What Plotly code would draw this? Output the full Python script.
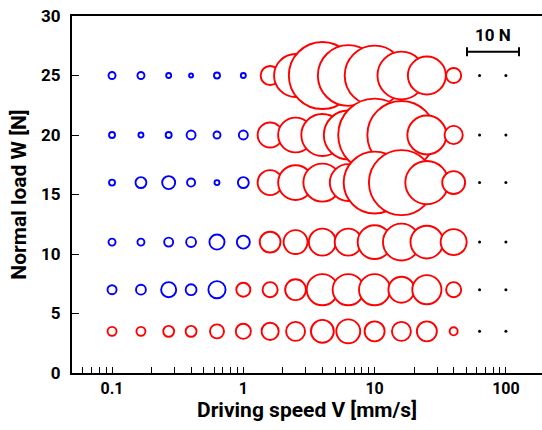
import plotly.graph_objects as go

# ---------------- data ----------------
speeds = [0.1, 0.166, 0.27, 0.4, 0.63, 1.0, 1.6, 2.5, 4.0, 6.3, 10, 16, 25, 40]   # mm/s
dot_speeds = [63, 100]                                                             # mm/s (no circle)
loads = [25, 20, 16, 11, 7, 3.5]                                                   # N

# circle magnitude (N) for each load row, in speed order
force_W25 = [1.35, 1.35, 0.96, 0.77, 1.15, 0.96, 3.65, 8.27, 12.9, 11.7, 11.5, 9.2, 7.3, 2.9]
force_W20 = [1.15, 0.96, 1.15, 1.73, 1.35, 1.73, 4.8, 6.7, 8.1, 9.4, 14.0, 13.1, 7.5, 3.5]
force_W16 = [1.15, 2.1, 2.5, 1.55, 0.96, 2.1, 4.8, 6.7, 7.3, 7.1, 11.9, 12.5, 8.3, 4.4]
force_W11 = [1.35, 1.35, 1.73, 1.9, 2.9, 2.5, 4.0, 4.6, 5.2, 5.2, 6.5, 7.1, 6.3, 5.0]
force_W7 = [1.73, 1.9, 2.9, 2.1, 3.3, 2.7, 2.9, 4.0, 6.0, 6.0, 6.0, 5.0, 5.6, 2.9]
force_W3_5 = [1.73, 1.73, 2.1, 2.1, 2.7, 2.9, 3.3, 3.65, 4.4, 4.6, 3.85, 3.65, 3.85, 1.55]

# regime of each point: B = blue, R = red
regime_W25 = ["B"] * 6 + ["R"] * 8
regime_W20 = ["B"] * 6 + ["R"] * 8
regime_W16 = ["B"] * 6 + ["R"] * 8
regime_W11 = ["B"] * 6 + ["R"] * 8
regime_W7 = ["B"] * 5 + ["R"] * 9
regime_W3_5 = ["R"] * 14

x_tick_vals = [0.1, 1, 10, 100]
x_tick_text = ["0.1", "1", "10", "100"]
y_tick_vals = [0, 5, 10, 15, 20, 25, 30]

scale_bar_N = 10

# ---------------- style ----------------
W, H = 542, 430
ML, MT, MB, MR = 72, 16, 57, 0
PX_PER_N = 5.2          # circle diameter (px) per newton
COL = {"B": "#0000ff", "R": "#ff0000"}
FONT = "Roboto, Liberation Sans, Arial, sans-serif"

rows = [
    (loads[0], force_W25, regime_W25),
    (loads[1], force_W20, regime_W20),
    (loads[2], force_W16, regime_W16),
    (loads[3], force_W11, regime_W11),
    (loads[4], force_W7, regime_W7),
    (loads[5], force_W3_5, regime_W3_5),
]

fig = go.Figure()
for load, forces, regime in rows:
    fig.add_trace(go.Scatter(
        x=speeds, y=[load] * len(speeds), mode="markers",
        marker=dict(symbol="circle", size=[f * PX_PER_N for f in forces],
                    sizemode="diameter", color="white", opacity=1,
                    line=dict(color=[COL[r] for r in regime], width=1.9)),
        showlegend=False, hoverinfo="x+y",
    ))

dx, dy = [], []
for load in loads:
    for s in dot_speeds:
        dx.append(s)
        dy.append(load)
fig.add_trace(go.Scatter(
    x=dx, y=dy, mode="markers",
    marker=dict(symbol="circle", size=3, color="black", line=dict(width=0)),
    showlegend=False,
))

# scale bar (pixel layout -> paper coords)
pw = W - ML - MR
ph = H - MT - MB
def px2paper_x(px):
    return (px - ML) / pw
def px2paper_y(py):
    return 1 - (py - MT) / ph

bar_cx, bar_y = 493, 51.7
bar_len = scale_bar_N * PX_PER_N
bx0, bx1 = bar_cx - bar_len / 2, bar_cx + bar_len / 2
cap = 4.5
line_style = dict(color="black", width=2)
shapes = [
    dict(type="line", xref="paper", yref="paper",
         x0=px2paper_x(bx0), x1=px2paper_x(bx1),
         y0=px2paper_y(bar_y), y1=px2paper_y(bar_y), line=line_style),
    dict(type="line", xref="paper", yref="paper",
         x0=px2paper_x(bx0), x1=px2paper_x(bx0),
         y0=px2paper_y(bar_y - cap), y1=px2paper_y(bar_y + cap), line=line_style),
    dict(type="line", xref="paper", yref="paper",
         x0=px2paper_x(bx1), x1=px2paper_x(bx1),
         y0=px2paper_y(bar_y - cap), y1=px2paper_y(bar_y + cap), line=line_style),
]

annotations = [
    dict(text="<b>%d N</b>" % scale_bar_N, xref="paper", yref="paper",
         x=px2paper_x(bar_cx), y=px2paper_y(35), xanchor="center", yanchor="middle",
         showarrow=False, font=dict(family=FONT, size=17, color="black")),
]

minor_vals = ([v / 100 for v in range(6, 10)] + [v / 10 for v in range(2, 10)] +
              [float(v) for v in range(2, 10)] + [float(v * 10) for v in range(2, 10)])

fig.update_layout(
    width=W, height=H,
    margin=dict(l=ML, r=MR, t=MT, b=MB, autoexpand=False),
    paper_bgcolor="white", plot_bgcolor="white",
    font=dict(family=FONT, color="black"),
    shapes=shapes, annotations=annotations,
    xaxis=dict(
        type="log", range=[-1.305, 2.275], automargin=False,
        showgrid=False, zeroline=False,
        showline=True, linecolor="black", linewidth=2, mirror=True,
        ticks="inside", ticklen=6, tickwidth=1, tickcolor="black",
        tickvals=x_tick_vals, ticktext=["<b>%s</b>" % t for t in x_tick_text],
        tickfont=dict(family=FONT, size=16),
        minor=dict(ticks="inside", ticklen=6, tickwidth=1, tickcolor="black",
                   tickvals=minor_vals, showgrid=False),
        title=dict(text="<b>Driving speed V [mm/s]</b>",
                   font=dict(family=FONT, size=21), standoff=2),
    ),
    yaxis=dict(
        range=[0, 30], automargin=False,
        showgrid=False, zeroline=False,
        showline=True, linecolor="black", linewidth=2, mirror=False,
        ticks="inside", ticklen=7, tickwidth=1, tickcolor="black",
        tickvals=y_tick_vals, ticktext=["<b>%d</b>" % v for v in y_tick_vals],
        tickfont=dict(family=FONT, size=17), ticklabelstandoff=6,
        title=dict(text="<b>Normal load W [N]</b>",
                   font=dict(family=FONT, size=21), standoff=9),
    ),
)

fig.write_html("out.html", config={"displayModeBar": False},
               post_script="document.body.style.margin='0';")
